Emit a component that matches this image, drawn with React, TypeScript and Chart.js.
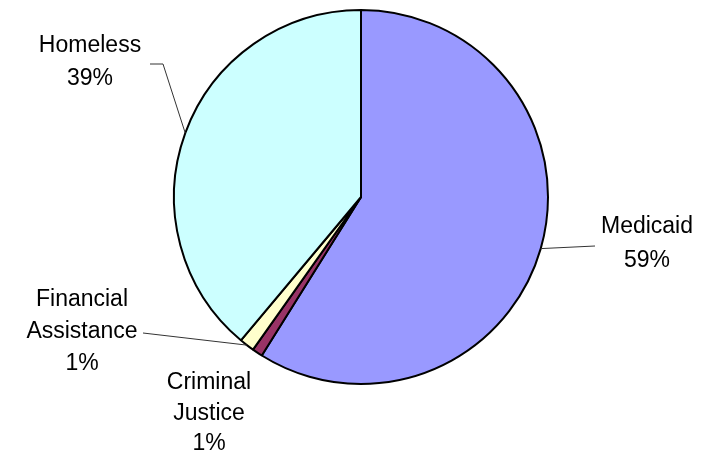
import React, { useEffect, useRef } from "react";
import { Chart, registerables } from "chart.js";

Chart.register(...registerables);

const categories = ["Medicaid", "Criminal Justice", "Financial Assistance", "Homeless"];
const values = [58.9, 0.9, 1.3, 38.9];
const percentLabels = ["59%", "1%", "1%", "39%"];
const labelLines = [
  ["Medicaid", "59%"],
  ["Criminal", "Justice", "1%"],
  ["Financial", "Assistance", "1%"],
  ["Homeless", "39%"],
];
const colors = ["#9999FF", "#993366", "#FFFFCC", "#CCFFFF"];

// label layout relative to pie center (px): text center x, first line middle y, leader end, optional elbow
const labelLayout = [
  { tx: 286, ty: 30, end: [234, 49], elbow: null as null | number[], lineGap: 34 },
  { tx: -152, ty: 186, end: null as null | number[], elbow: null as null | number[], lineGap: 30.5 },
  { tx: -279, ty: 103, end: [-218, 136], elbow: null as null | number[], lineGap: 32 },
  { tx: -271, ty: -151, end: [-211, -133], elbow: [-198, -133], lineGap: 33 },
];

const labelPlugin = {
  id: "pieLabels",
  afterDatasetsDraw(chart: any) {
    const ctx = chart.ctx;
    const meta = chart.getDatasetMeta(0);
    ctx.save();
    meta.data.forEach((arc: any, i: number) => {
      const p = arc.getProps(["x", "y", "startAngle", "endAngle", "outerRadius"], true);
      const mid = (p.startAngle + p.endAngle) / 2;
      const lay = labelLayout[i];
      const cx = p.x;
      const cy = p.y;
      if (lay.end) {
        const sx = cx + Math.cos(mid) * p.outerRadius;
        const sy = cy + Math.sin(mid) * p.outerRadius;
        ctx.beginPath();
        ctx.strokeStyle = "#333";
        ctx.lineWidth = 1;
        ctx.moveTo(sx, sy);
        if (lay.elbow) ctx.lineTo(cx + lay.elbow[0], cy + lay.elbow[1]);
        ctx.lineTo(cx + lay.end[0], cy + lay.end[1]);
        ctx.stroke();
      }
      ctx.fillStyle = "#000";
      ctx.font = '23px Arial, "Liberation Sans", sans-serif';
      ctx.textAlign = "center";
      ctx.textBaseline = "middle";
      labelLines[i].forEach((t, j) => {
        ctx.fillText(t, cx + lay.tx, cy + lay.ty + j * lay.lineGap);
      });
    });
    ctx.restore();
  },
};

export default function App() {
  const ref = useRef<HTMLCanvasElement>(null);
  useEffect(() => {
    document.body.style.margin = "0";
    const chart = new Chart(ref.current!, {
      type: "pie",
      data: {
        labels: categories,
        datasets: [
          {
            data: values,
            backgroundColor: colors,
            borderColor: "#000",
            borderWidth: 2,
          },
        ],
      },
      options: {
        responsive: false,
        animation: false,
        layout: { padding: { left: 173, right: 162, top: 9, bottom: 70 } },
        plugins: {
          legend: { display: false },
          tooltip: { enabled: false },
        },
      },
      plugins: [labelPlugin],
    });
    return () => chart.destroy();
  }, []);
  return (
    <div style={{ width: 711, height: 455, background: "#fff" }}>
      <canvas ref={ref} width={711} height={455} />
    </div>
  );
}
